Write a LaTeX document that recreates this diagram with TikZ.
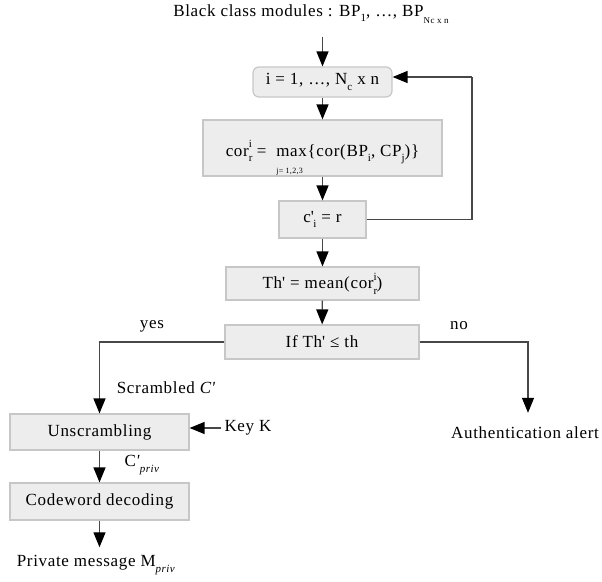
\documentclass[tikz,border=0pt]{standalone}
\usepackage{fontspec}
\setmainfont[LetterSpace=4]{Liberation Serif}
\usetikzlibrary{arrows.meta,calc}
\newcommand\mysub[1]{\raisebox{-0.7ex}{\fontsize{11}{11}\selectfont #1}}
\newcommand\mytinysub[1]{\raisebox{-0.9ex}{\fontsize{9}{9}\selectfont #1}}
\newcommand\mysubsup[2]{\rlap{\raisebox{-0.7ex}{\fontsize{11}{11}\selectfont #1}}\raisebox{1.1ex}{\fontsize{11}{11}\selectfont #2}}
\newcommand\qq{\textquotesingle}
\begin{document}
\begin{tikzpicture}[x=1pt,y=-1pt,
  every node/.style={font=\fontsize{17}{20}\selectfont, inner sep=0pt},
  every label/.style={font=\fontsize{17}{20}\selectfont, inner sep=0pt},
  box/.style={draw=black!22, fill=black!7, line width=1.2pt},
  rbox/.style={box, rounded corners=6pt},
  conn/.style={draw=black!72, line width=1.3pt},
  arr/.style={conn, -{Triangle[length=15pt,width=12pt,fill=black,color=black]}}
]
\useasboundingbox (0,0) rectangle (602,581);

\node (top) at (311,14) {Black class modules : BP\mysub{1}, …, BP\mytinysub{Nc x n}};
\node[rbox, minimum width=139, minimum height=30] (b1) at (322.5,82) {i = 1, …, N\mysub{c} x n};
\node[box, minimum width=239, minimum height=56,
  label={[yshift=-4.5pt]center:cor\mysubsup{r}{i} =\ \ \rlap{\smash{\raisebox{-2.2ex}{\fontsize{8}{8}\selectfont j= 1,2,3}}}max\{cor(BP\mysub{i}, CP\mysub{j})\}}] (b2) at (322.5,148) {};
\node[box, minimum width=87, minimum height=37] (b3) at (322.5,219.5) {c\qq\kern-0.5pt\mysub{i} = r};
\node[box, minimum width=193, minimum height=33] (b4) at (322.5,283.5) {Th\qq{} = mean(cor\mysubsup{r}{i})};
\node[box, minimum width=194, minimum height=34] (b5) at (322,342) {If Th\qq{} ≤ th};
\node[box, minimum width=179, minimum height=36] (un) at (99.5,432) {Unscrambling};
\node[box, minimum width=179, minimum height=37] (cd) at (99.5,501.5) {Codeword decoding};
\node (pm) at (96,565) {Private message M\mysub{\textit{priv}}};
\node (aa) at (525,433) {Authentication alert};
\node (key) at (248,428) {Key K};
\node (yes) at (152,326) {yes};
\node (no) at (459,326) {no};
\node (sc) at (166,388) {Scrambled \textit{C\qq}};
\node (cp) at (142,465) {C\textit{\qq}\mysub{\textit{priv}}};

\coordinate (fb) at (472,77);
\coordinate (ly) at (99.5,342);
\coordinate (ln) at (528,342);

\draw[arr, shorten <=13pt] (top.south -| b1) -- (b1);
\draw[arr] (b1) -- (b2);
\draw[arr] (b2) -- (b3);
\draw[conn] (b3.east) -| (fb);
\draw[arr] (fb) -- (fb -| b1.east);
\draw[arr] (b3) -- (b4);
\draw[arr] (b4) -- (b5);
\draw[arr] (b5.west) -- (ly) -- (un.north);
\draw[arr] (b5.east) -- (ln) -- ($(aa.north -| ln)+(0,-14)$);
\draw[arr, shorten <=3pt] (key.west) -- (key.west -| un.east);
\draw[arr] (un) -- (cd);
\draw[arr, shorten >=8pt] (cd) -- (pm.north -| cd);
\end{tikzpicture}
\end{document}
